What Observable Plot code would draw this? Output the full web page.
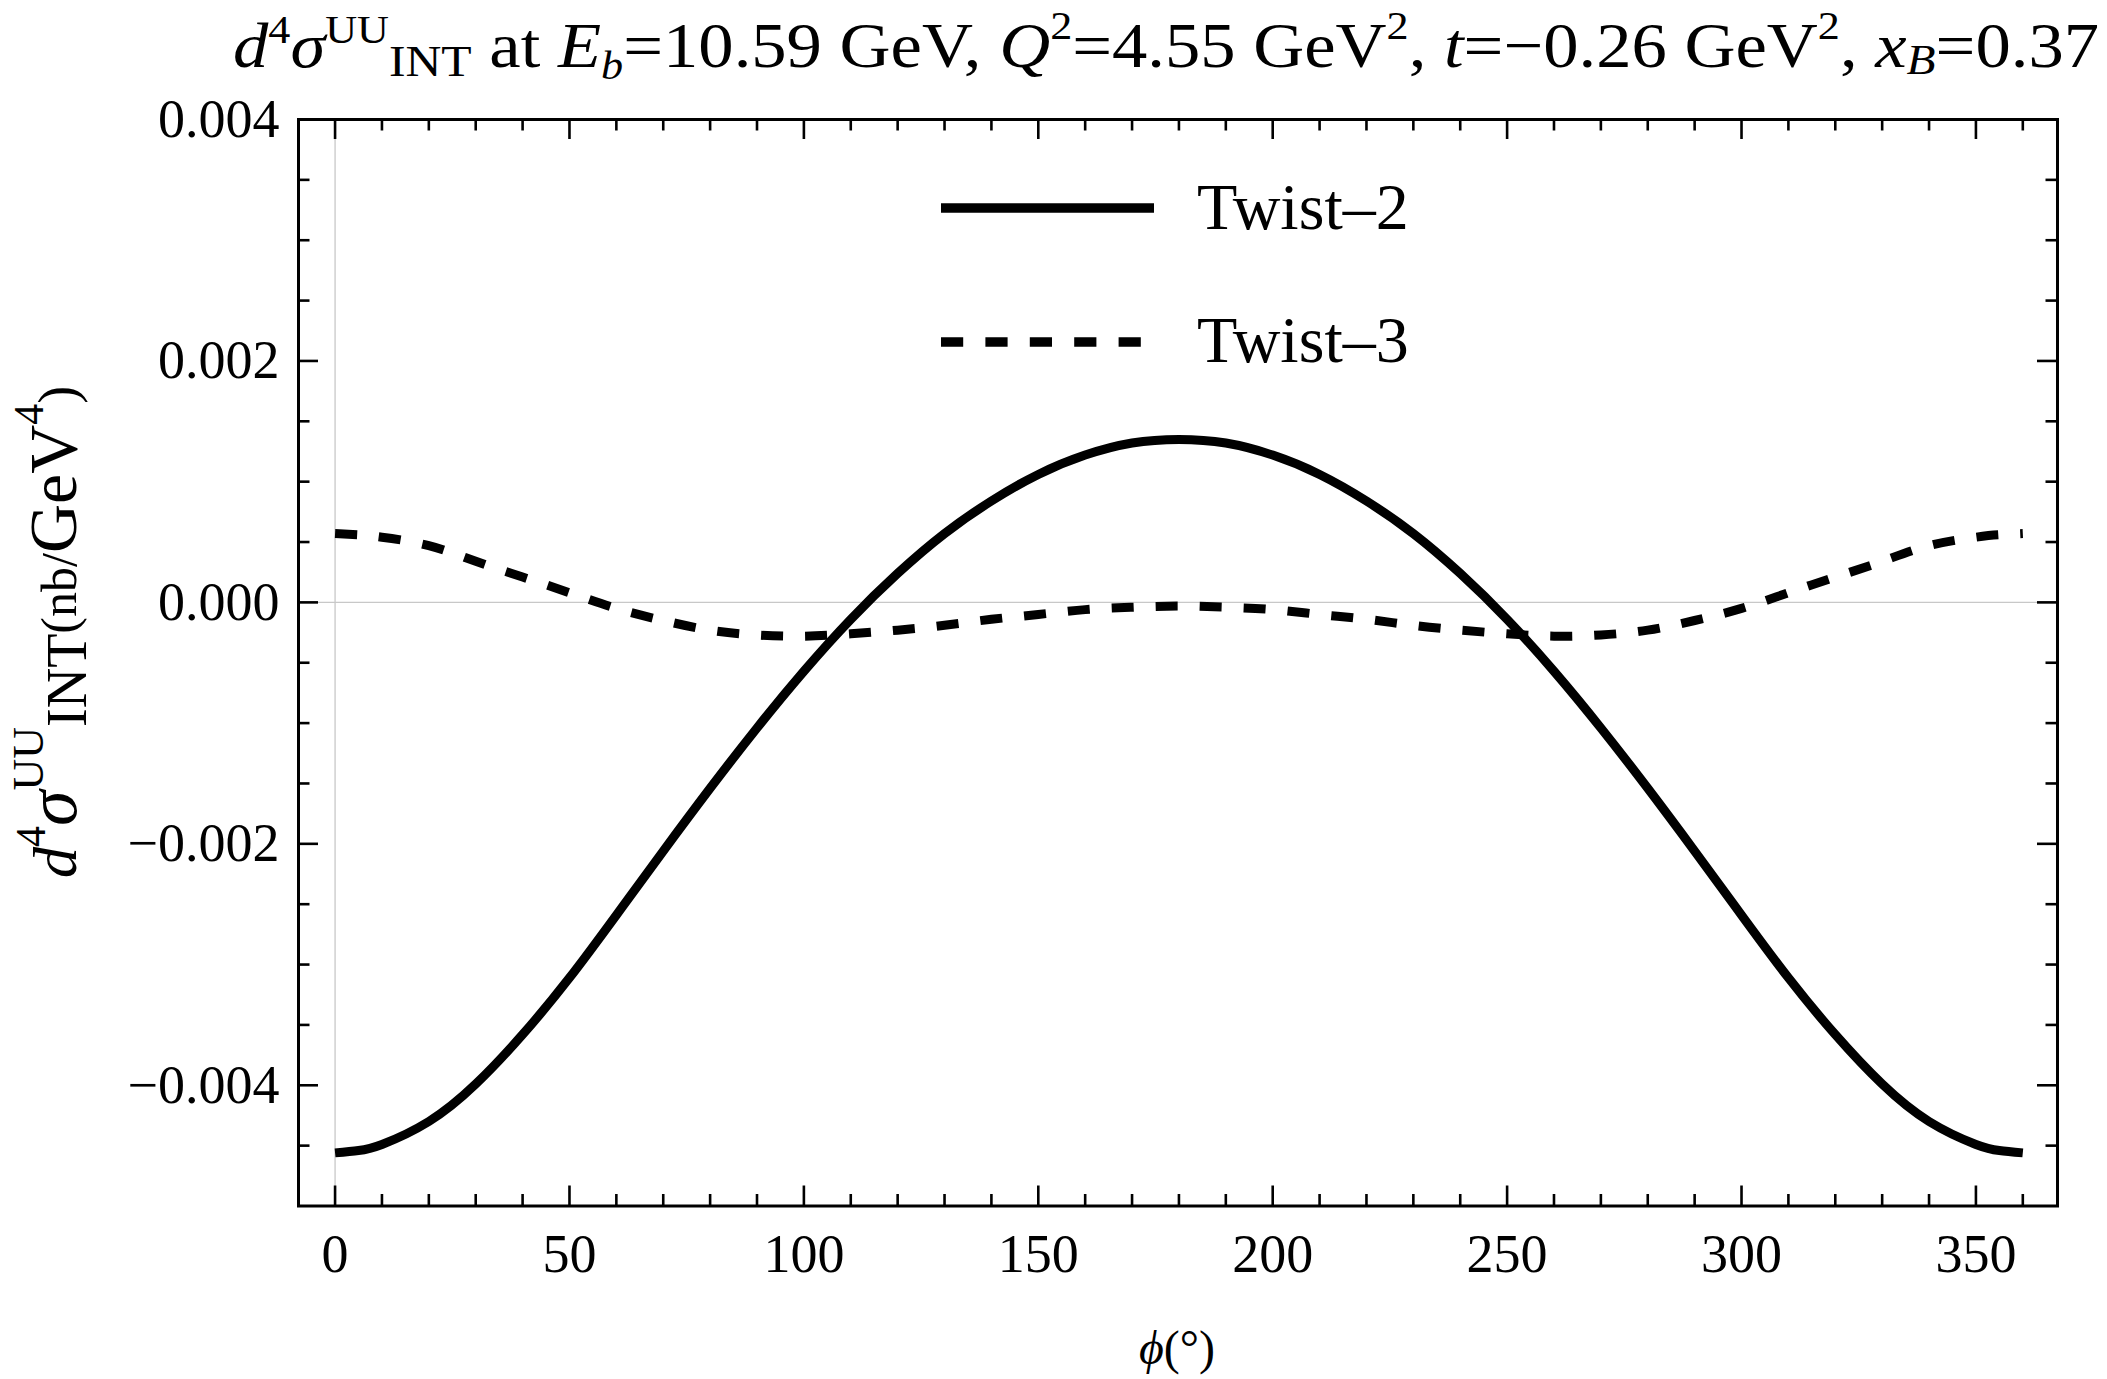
<!DOCTYPE html>
<html>
<head>
<meta charset="utf-8">
<script src="https://cdn.jsdelivr.net/npm/d3@7"></script>
<script src="https://cdn.jsdelivr.net/npm/@observablehq/plot@0.6"></script>
<style>
  html, body { margin: 0; padding: 0; background: #fff; }
  #wrap { position: relative; width: 2107px; height: 1379px; overflow: hidden;
          font-family: "Liberation Serif", "Times New Roman", serif; color: #000; }
  #wrap svg { display: block; }
  .abs { position: absolute; white-space: nowrap; }
  .r { position: relative; }
  #title { font-size: 64px; line-height: 64px; left: 0; top: 0; transform-origin: 0 0; }
  #ylab { font-size: 54px; line-height: 70px; left: 0; top: 0; transform-origin: 0 0; }
  .mk { display: inline-block; width: 0; height: 0; vertical-align: baseline; }
</style>
</head>
<body>
<div id="wrap">
  <div id="chart"></div>
  <div id="title" class="abs"><span class="mk" id="tmk"></span><i>d</i><span class="r" style="font-size:40px;top:-24px">4</span><i>σ</i><span class="r" style="font-size:40px;top:-24px">UU</span><span class="r" style="font-size:45px;top:9px">INT</span> at <i>E</i><span class="r" style="font-size:40px;top:12px"><i>b</i></span>=10.59 GeV, <i>Q</i><span class="r" style="font-size:40px;top:-28px">2</span>=4.55 GeV<span class="r" style="font-size:40px;top:-28px">2</span>, <i>t</i>=−0.26 GeV<span class="r" style="font-size:40px;top:-28px">2</span>, <i>x</i><span class="r" style="font-size:43px;top:7px"><i>B</i></span>=0.37</div>
  <div id="ylab" class="abs"><span class="mk" id="ymk"></span><i style="font-size:62px">d</i><span class="r" style="font-size:42px;top:-31px">4</span><i style="font-size:72px">σ</i><span class="r" style="font-size:44px;top:-33px">UU</span><span class="r" style="font-size:56px;top:10px">INT</span><span style="font-size:50px">(nb/</span><span style="font-size:68px">GeV</span><span class="r" style="font-size:42px;top:-33px">4</span><span style="font-size:54px">)</span></div>
</div>
<script>
// ---- data ----
const phi = [0, 5, 10, 20, 30, 40, 50, 60, 70, 80, 90, 100, 110, 120, 130, 140, 150, 160, 170, 180,
             190, 200, 210, 220, 230, 240, 250, 260, 270, 280, 290, 300, 310, 320, 330, 340, 350, 355, 360];
const twist2 = [-0.00456, -0.00454, -0.00449, -0.00430, -0.00399, -0.00358, -0.00311, -0.00259, -0.00206,
                -0.00154, -0.00104, -0.00057, -0.00014, 0.00024, 0.00057, 0.00084, 0.00106, 0.00122, 0.00132,
                0.00135,
                0.00132, 0.00122, 0.00106, 0.00084, 0.00057, 0.00024, -0.00014, -0.00057, -0.00104, -0.00154,
                -0.00206, -0.00259, -0.00311, -0.00358, -0.00399, -0.00430, -0.00449, -0.00454, -0.00456];
const twist3 = [0.00057, 0.00056, 0.00054, 0.00047, 0.00034, 0.00021, 0.00008, -0.00005, -0.00015,
                -0.00023, -0.00027, -0.00028, -0.00026, -0.00023, -0.00019, -0.00014, -0.00010, -0.00006, -0.00004,
                -0.00003,
                -0.00004, -0.00006, -0.00010, -0.00014, -0.00019, -0.00023, -0.00026, -0.00028, -0.00027,
                -0.00023, -0.00015, -0.00005, 0.00008, 0.00021, 0.00034, 0.00047, 0.00054, 0.00056, 0.00057];
const xMajorTicks = [0, 50, 100, 150, 200, 250, 300, 350];
const xMinorTicks = [10, 20, 30, 40, 60, 70, 80, 90, 110, 120, 130, 140, 160, 170, 180, 190,
                     210, 220, 230, 240, 260, 270, 280, 290, 310, 320, 330, 340, 360];
const yMajorTicks = [-0.004, -0.002, 0, 0.002, 0.004];
const yMinorTicks = [-0.0045, -0.0035, -0.003, -0.0025, -0.0015, -0.001, -0.0005,
                     0.0005, 0.001, 0.0015, 0.0025, 0.003, 0.0035];
const legendLabels = ["Twist–2", "Twist–3"];

const rows = phi.map((p, i) => ({phi: p, t2: twist2[i], t3: twist3[i]}));

const W = 2107, H = 1379;
const mt = 119, mb = 173.5, ml = 298, mr = 50;
const innerH = H - mt - mb, innerW = W - ml - mr;
const majLen = 20, minLen = 11.5, tw = 2.6;

const plot = Plot.plot({
  width: W, height: H,
  marginTop: mt, marginBottom: mb, marginLeft: ml, marginRight: mr,
  style: {fontFamily: '"Liberation Serif", "Times New Roman", serif', color: "#000", background: "transparent", overflow: "visible"},
  x: {domain: [-7.8, 367.4], label: null},
  y: {domain: [-0.005, 0.004], label: null},
  marks: [
    Plot.ruleX([0], {stroke: "#c8c8c8", strokeWidth: 1.3}),
    Plot.ruleY([0], {stroke: "#c8c8c8", strokeWidth: 1.3}),
    Plot.line(rows, {x: "phi", y: "t2", curve: "natural", stroke: "#000", strokeWidth: 9, strokeLinecap: "butt"}),
    Plot.line(rows, {x: "phi", y: "t3", curve: "natural", stroke: "#000", strokeWidth: 9, strokeLinecap: "butt", strokeDasharray: "22,22"}),
    Plot.ruleX(xMajorTicks, {insetTop: innerH - majLen, strokeWidth: tw}),
    Plot.ruleX(xMajorTicks, {insetBottom: innerH - majLen, strokeWidth: tw}),
    Plot.ruleX(xMinorTicks, {insetTop: innerH - minLen, strokeWidth: tw}),
    Plot.ruleX(xMinorTicks, {insetBottom: innerH - minLen, strokeWidth: tw}),
    Plot.ruleY(yMajorTicks, {insetRight: innerW - majLen, strokeWidth: tw}),
    Plot.ruleY(yMajorTicks, {insetLeft: innerW - majLen, strokeWidth: tw}),
    Plot.ruleY(yMinorTicks, {insetRight: innerW - minLen, strokeWidth: tw}),
    Plot.ruleY(yMinorTicks, {insetLeft: innerW - minLen, strokeWidth: tw}),
    Plot.frame({stroke: "#000", strokeWidth: 3}),
    Plot.axisX(xMajorTicks, {tickSize: 0, tickPadding: 28, fontSize: 54, label: null, tickFormat: d => String(d)}),
    Plot.axisY(yMajorTicks, {tickSize: 0, tickPadding: 19, fontSize: 54, label: null, tickFormat: d3.format(".3f")})
  ]
});
document.getElementById("chart").appendChild(plot);

// legend + x label overlay
const ns = "http://www.w3.org/2000/svg";
const ov = document.createElementNS(ns, "svg");
ov.setAttribute("width", W); ov.setAttribute("height", H);
ov.setAttribute("style", "position:absolute;left:0;top:0;font-family:'Liberation Serif','Times New Roman',serif");
ov.innerHTML = `
  <line x1="941" x2="1154" y1="208" y2="208" stroke="#000" stroke-width="9.5"/>
  <text x="1197" y="229" font-size="66">${legendLabels[0]}</text>
  <line x1="941" x2="1141" y1="342" y2="342" stroke="#000" stroke-width="9.5" stroke-dasharray="22.2,22.2"/>
  <text x="1197" y="362" font-size="66">${legendLabels[1]}</text>
  <text x="1177" y="1364" font-size="48" text-anchor="middle"><tspan font-style="italic">ϕ</tspan>(°)</text>`;
document.getElementById("wrap").appendChild(ov);

// title: baseline at y=67, spanning about x 230..2098
const title = document.getElementById("title");
const tw0 = title.getBoundingClientRect().width;
const tb = document.getElementById("tmk").offsetTop;
const targetW = 1866;
const sx = targetW / tw0;
title.style.left = (2099 - targetW) + "px";
title.style.top = (67 - tb) + "px";
title.style.transform = `scaleX(${sx})`;

// y label: rotated, baseline at x=76, centred on y=631
const ylab = document.getElementById("ylab");
const yw = ylab.getBoundingClientRect().width;
const yb = document.getElementById("ymk").offsetTop;
ylab.style.left = (76 - yb) + "px";
ylab.style.top = (631.5 + yw / 2) + "px";
ylab.style.transform = "rotate(-90deg)";
</script>
</body>
</html>
